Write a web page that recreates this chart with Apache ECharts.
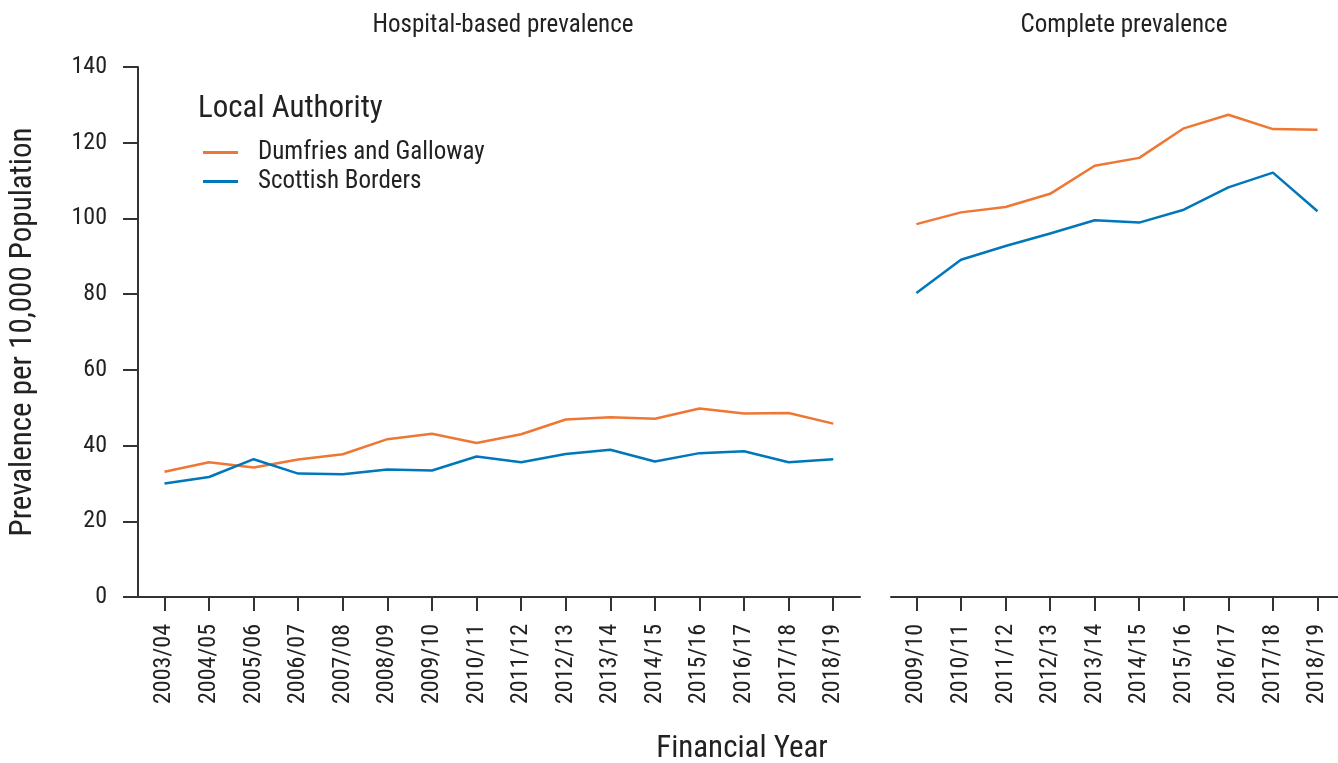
<!DOCTYPE html>
<html>
<head>
<meta charset="utf-8">
<script src="https://cdn.jsdelivr.net/npm/echarts@6/dist/echarts.min.js"></script>
<style>
html,body{margin:0;padding:0;background:#fff;}
#chart{width:1338px;height:763px;}
</style>
</head>
<body>
<div id="chart"></div>
<script>
var hospitalYears = ["2003/04","2004/05","2005/06","2006/07","2007/08","2008/09","2009/10","2010/11","2011/12","2012/13","2013/14","2014/15","2015/16","2016/17","2017/18","2018/19"];
var completeYears = ["2009/10","2010/11","2011/12","2012/13","2013/14","2014/15","2015/16","2016/17","2017/18","2018/19"];
var hospDumfries = [33.1,35.6,34.2,36.3,37.7,41.7,43.1,40.7,43.0,46.9,47.5,47.1,49.8,48.5,48.6,45.8];
var hospBorders  = [30.0,31.7,36.4,32.6,32.4,33.7,33.4,37.1,35.6,37.8,38.9,35.8,38.0,38.5,35.6,36.4];
var compDumfries = [98.5,101.6,103.0,106.5,113.9,116.0,123.8,127.4,123.6,123.4];
var compBorders  = [80.3,89.1,92.7,96.0,99.5,98.9,102.3,108.2,112.1,101.9];
var yTicks = [0,20,40,60,80,100,120,140];
var seriesNames = ["Dumfries and Galloway","Scottish Borders"];
var colors = ["#EE7733","#0077BB"];

var FONT = "'Roboto Condensed', Roboto, sans-serif";
var TXT = "#222222";
var AX = "#333333";

function pairs(arr){ return arr.map(function(v,i){ return [i,v]; }); }
function idx(n){ var a=[]; for(var i=0;i<n;i++) a.push(i); return a; }

function xAxisCfg(grid, cats, mn, mx){
  return {
    type:'value', gridIndex:grid, min:mn, max:mx,
    axisLine:{show:true, onZero:false, lineStyle:{color:AX, width:2}},
    axisTick:{show:true, length:14, customValues:idx(cats.length), lineStyle:{color:AX, width:2}},
    axisLabel:{show:true, rotate:90, margin:27, customValues:idx(cats.length),
      formatter:function(v){ return cats[Math.round(v)]; },
      fontFamily:FONT, fontSize:24, color:TXT},
    splitLine:{show:false}
  };
}

var chart = echarts.init(document.getElementById('chart'), null, {renderer:'canvas'});
chart.setOption({
  backgroundColor:'#ffffff',
  animation:false,
  color:colors,
  title:[
    {text:'Hospital-based prevalence', left:498, top:8, textAlign:'center',
      textStyle:{fontFamily:FONT, fontSize:25, fontWeight:'normal', color:TXT}},
    {text:'Complete prevalence', left:1119, top:8, textAlign:'center',
      textStyle:{fontFamily:FONT, fontSize:25, fontWeight:'normal', color:TXT}},
    {text:'Financial Year', left:737, top:729, textAlign:'center',
      textStyle:{fontFamily:FONT, fontSize:31, fontWeight:'normal', color:TXT}},
    {text:'Local Authority', left:193, top:89,
      textStyle:{fontFamily:FONT, fontSize:31, fontWeight:'normal', color:TXT}}
  ],
  legend:{
    orient:'vertical', left:198, top:135,
    itemWidth:35, itemHeight:3, itemGap:4,
    icon:'rect',
    data:seriesNames,
    textStyle:{fontFamily:FONT, fontSize:25, color:TXT, padding:[0,0,0,15]}
  },
  grid:[
    {left:137, width:723, top:67, bottom:166},
    {left:891, right:0, top:67, bottom:166}
  ],
  xAxis:[
    xAxisCfg(0, hospitalYears, -0.594, 15.6),
    xAxisCfg(1, completeYears, -0.57, 9.46)
  ],
  yAxis:[
    {type:'value', gridIndex:0, min:0, max:140, interval:20,
      name:'Prevalence per 10,000 Population', nameLocation:'middle', nameGap:99,
      nameTextStyle:{fontFamily:FONT, fontSize:31, color:TXT},
      axisLine:{show:true, onZero:false, lineStyle:{color:AX, width:2}},
      axisTick:{show:true, length:15, lineStyle:{color:AX, width:2}},
      axisLabel:{margin:31, fontFamily:FONT, fontSize:24, color:TXT,
        customValues:yTicks},
      splitLine:{show:false}},
    {type:'value', gridIndex:1, min:0, max:140, interval:20, show:false,
      splitLine:{show:false}}
  ],
  series:[
    {name:seriesNames[0], type:'line', xAxisIndex:0, yAxisIndex:0, data:pairs(hospDumfries),
      showSymbol:false, symbol:'none', lineStyle:{width:2.5, color:colors[0]}, itemStyle:{color:colors[0]}},
    {name:seriesNames[1], type:'line', xAxisIndex:0, yAxisIndex:0, data:pairs(hospBorders),
      showSymbol:false, symbol:'none', lineStyle:{width:2.5, color:colors[1]}, itemStyle:{color:colors[1]}},
    {name:seriesNames[0], type:'line', xAxisIndex:1, yAxisIndex:1, data:pairs(compDumfries),
      showSymbol:false, symbol:'none', lineStyle:{width:2.5, color:colors[0]}, itemStyle:{color:colors[0]}},
    {name:seriesNames[1], type:'line', xAxisIndex:1, yAxisIndex:1, data:pairs(compBorders),
      showSymbol:false, symbol:'none', lineStyle:{width:2.5, color:colors[1]}, itemStyle:{color:colors[1]}}
  ]
});
</script>
</body>
</html>
